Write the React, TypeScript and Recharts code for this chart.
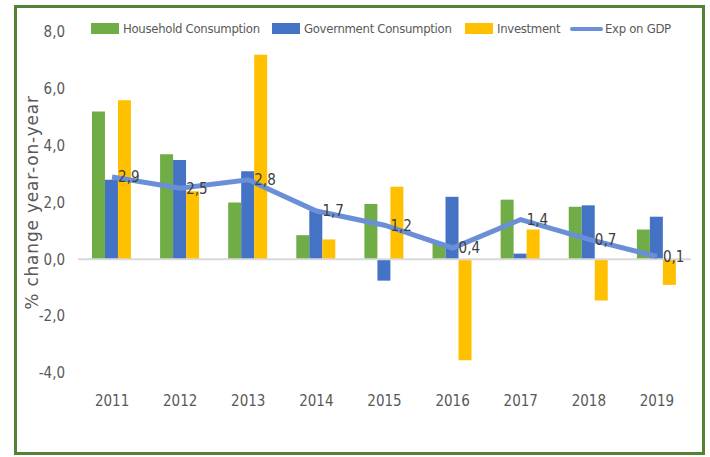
import React from "react";
import {
  ComposedChart, Bar, Line, XAxis, YAxis, ReferenceLine, LabelList,
} from "recharts";

const years = ["2011", "2012", "2013", "2014", "2015", "2016", "2017", "2018", "2019"];
const household = [5.2, 3.7, 2.0, 0.85, 1.95, 0.55, 2.1, 1.85, 1.05];
const government = [2.8, 3.5, 3.1, 1.7, -0.75, 2.2, 0.2, 1.9, 1.5];
const investment = [5.6, 2.4, 7.2, 0.7, 2.55, -3.55, 1.05, -1.45, -0.9];
const expOnGdp = [2.9, 2.5, 2.8, 1.7, 1.2, 0.4, 1.4, 0.7, 0.1];
const yTicks = [-4, -2, 0, 2, 4, 6, 8];

const GREEN = "#70ad47";
const BLUE = "#4472c4";
const YELLOW = "#ffc000";
const LINE = "#6a8fd6";
const FONT = "'DejaVu Sans Condensed', 'Liberation Sans Narrow', Arial, sans-serif";

const data = years.map((y, i) => ({
  year: y,
  household: household[i],
  government: government[i],
  investment: investment[i],
  exp: expOnGdp[i],
}));

// legend entries, with the slot width each one takes in the row
const legendItems = [
  { name: "Household Consumption", color: GREEN, line: false, w: 181 },
  { name: "Government Consumption", color: BLUE, line: false, w: 193 },
  { name: "Investment", color: YELLOW, line: false, w: 105 },
  { name: "Exp on GDP", color: LINE, line: true, w: 110 },
];

const comma = (v: number) => v.toFixed(1).replace(".", ",");

export default function App() {
  return (
    <div style={{ position: "absolute", left: 0, top: 0, width: 710, height: 457, background: "#fff", fontFamily: FONT }}>
      <div style={{ position: "absolute", left: 14, top: 5, width: 685, height: 444, border: "3px solid #548235" }} />

      {/* legend */}
      <div style={{ position: "absolute", left: 91, top: 21, display: "flex", alignItems: "center", fontSize: 13, letterSpacing: -0.3, color: "#595959", whiteSpace: "nowrap" }}>
        {legendItems.map(it => (
          <div key={it.name} style={{ display: "flex", alignItems: "center", width: it.w }}>
            {it.line
              ? <div style={{ width: 33, height: 4, background: it.color, borderRadius: 2, marginRight: 2 }} />
              : <div style={{ width: 28, height: 11, background: it.color, marginRight: 4 }} />}
            <span>{it.name}</span>
          </div>
        ))}
      </div>

      <ComposedChart
        width={710}
        height={457}
        data={data}
        margin={{ top: 32, right: 19, bottom: 34, left: 0 }}
        barCategoryGap="20.5%"
        barGap={0}
      >
        <XAxis
          dataKey="year"
          axisLine={false}
          tickLine={false}
          tickMargin={16}
          height={50}
          tick={{ fill: "#595959", fontSize: 15, fontFamily: FONT }}
        />
        <YAxis
          domain={[-4, 8]}
          ticks={yTicks}
          interval={0}
          axisLine={false}
          tickLine={false}
          tickMargin={7}
          width={78}
          tickFormatter={comma}
          tick={{ fill: "#595959", fontSize: 15, fontFamily: FONT }}
          label={{
            value: "% change year-on-year",
            angle: -90,
            position: "center",
            dx: -7,
            style: { fill: "#595959", fontSize: 17, letterSpacing: 0.8, fontFamily: "'DejaVu Sans', Verdana, sans-serif" },
          }}
        />
        <ReferenceLine y={0} stroke="#d9d9d9" strokeWidth={2} />
        <Bar dataKey="household" fill={GREEN} isAnimationActive={false} />
        <Bar dataKey="government" fill={BLUE} isAnimationActive={false} />
        <Bar dataKey="investment" fill={YELLOW} isAnimationActive={false} />
        <Line
          dataKey="exp"
          stroke={LINE}
          strokeWidth={5}
          dot={false}
          isAnimationActive={false}
        >
          <LabelList
            dataKey="exp"
            position="right"
            offset={6}
            formatter={(v: number) => comma(v)}
            style={{ fill: "#404040", fontSize: 15, fontFamily: FONT }}
          />
        </Line>
      </ComposedChart>
    </div>
  );
}
